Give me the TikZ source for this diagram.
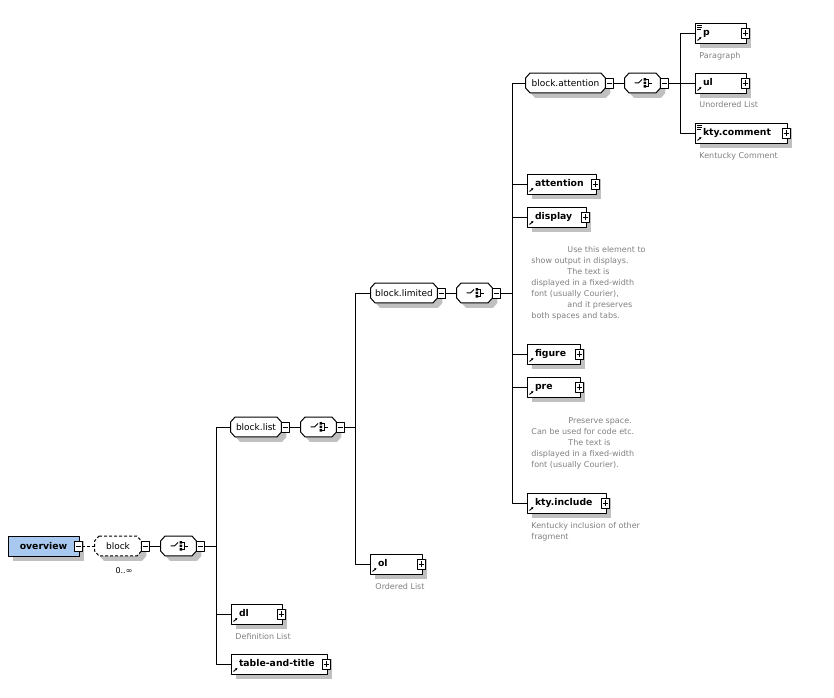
\documentclass[tikz,border=0pt]{standalone}
\usepackage{fontspec}
\setmainfont{DejaVu Sans}
\usetikzlibrary{shadows,arrows.meta,backgrounds}
\definecolor{rootblue}{RGB}{168,200,240}
\definecolor{docgray}{RGB}{128,128,128}
\definecolor{shadowgray}{RGB}{192,192,192}
\begin{document}
\begin{tikzpicture}[>=latex,line join=bevel,line width=0.9bp,
    shade/.style={drop shadow={shadow xshift=5bp,shadow yshift=-5bp,fill=shadowgray,opacity=1}},
    elem/.style={draw,rectangle,fill=white,shade,minimum height=20bp,inner xsep=8bp,inner ysep=0pt,
      text height=7bp,text depth=2bp,align=left,text width=#1,font=\fontsize{9.3bp}{11bp}\selectfont\bfseries,
      path picture={\draw[line width=0.9bp,-{Latex[length=2.2bp,width=2.6bp]}] ([shift={(2.5bp,2.5bp)}]path picture bounding box.south west) -- ++(4bp,3.5bp);}},
    elemdoc/.style={elem=#1,
      path picture={\draw[line width=0.9bp,-{Latex[length=2.2bp,width=2.6bp]}] ([shift={(2.5bp,2.5bp)}]path picture bounding box.south west) -- ++(4bp,3.5bp);
        \draw[line width=0.7bp] ([shift={(2bp,-2.5bp)}]path picture bounding box.north west) -- ++(5bp,0)
          ([shift={(2bp,-4.5bp)}]path picture bounding box.north west) -- ++(5bp,0)
          ([shift={(2bp,-6.5bp)}]path picture bounding box.north west) -- ++(3.5bp,0);}},
    group/.style={rectangle,minimum height=19bp,minimum width=#1,inner sep=0pt,font=\fontsize{9bp}{11bp}\selectfont},
    seq/.style={group=35bp},
    oct/.style={insert path={([xshift=4.5bp]#1.north west) -- ([xshift=-4.5bp]#1.north east) -- ([yshift=-5bp]#1.north east)
      -- ([yshift=5bp]#1.south east) -- ([xshift=-4.5bp]#1.south east) -- ([xshift=4.5bp]#1.south west)
      -- ([yshift=5bp]#1.south west) -- ([yshift=-5bp]#1.north west) -- cycle}},
    octshadow/.style={insert path={([shift={(9.5bp,-5bp)}]#1.north west) -- ([shift={(0.5bp,-5bp)}]#1.north east) -- ([shift={(5bp,-10bp)}]#1.north east)
      -- ([shift={(5bp,0bp)}]#1.south east) -- ([shift={(0.5bp,-5bp)}]#1.south east) -- ([shift={(9.5bp,-5bp)}]#1.south west)
      -- ([shift={(5bp,0bp)}]#1.south west) -- ([shift={(5bp,-10bp)}]#1.north west) -- cycle}},
    minus/.style={draw,fill=white,rectangle,minimum width=8bp,minimum height=10bp,inner sep=0pt,line width=0.7bp,
      path picture={\draw[line width=0.7bp] ([xshift=1.5bp]path picture bounding box.west) -- ([xshift=-1.5bp]path picture bounding box.east);}},
    plus/.style={draw,fill=white,rectangle,minimum width=8bp,minimum height=10bp,inner sep=0pt,line width=0.7bp,
      path picture={\draw[line width=0.7bp] ([xshift=1.5bp]path picture bounding box.west) -- ([xshift=-1.5bp]path picture bounding box.east)
        ([yshift=2bp]path picture bounding box.south) -- ([yshift=-2bp]path picture bounding box.north);}},
    doc/.style={anchor=base west,inner sep=0pt,align=left,text=docgray,font=\fontsize{8bp}{11bp}\selectfont},
  ]
    \useasboundingbox (0bp,0bp) rectangle (834bp,698bp);
    %%
    \node (ov) at (43.5bp,152bp) [draw,rectangle,fill=rootblue,shade,minimum width=71bp,minimum height=20bp,font=\fontsize{9.3bp}{11bp}\selectfont\bfseries] {overview};
    \node (ovm) at (78bp,152bp) [minus] {};
    \node (blk) at (118bp,152bp) [group=46bp] {block};
    \node (blkm) at (145bp,152bp) [minus] {};
    \node (card) at (124bp,124bp) [anchor=base,inner sep=0pt,font=\fontsize{8bp}{11bp}\selectfont] {0..∞};
    \node (sq1) at (178.5bp,152bp) [seq] {};
    \node (sq1m) at (200bp,152bp) [minus] {};
    \coordinate (t1) at (216bp,152bp);
    %
    \node (bl) at (256bp,271bp) [group=50bp] {block.list};
    \node (blm) at (285bp,271bp) [minus] {};
    \node (sq2) at (318.5bp,271bp) [seq] {};
    \node (sq2m) at (340bp,271bp) [minus] {};
    \coordinate (t2) at (355bp,271bp);
    \node (dl) at (256.5bp,84bp) [elem=35bp] {dl};
    \node (dlp) at (281bp,84bp) [plus] {};
    \node (dldoc) at (235bp,58bp) [doc] {Definition List};
    \node (tt) at (279bp,34bp) [elem=80bp] {table-and-title};
    \node (ttp) at (326bp,34bp) [plus] {};
    %
    \node (lim) at (404bp,405bp) [group=66bp] {block.limited};
    \node (limm) at (441bp,405bp) [minus] {};
    \node (sq3) at (474.5bp,405bp) [seq] {};
    \node (sq3m) at (496bp,405bp) [minus] {};
    \coordinate (t3) at (512bp,405bp);
    \node (ol) at (396bp,134bp) [elem=36bp] {ol};
    \node (olp) at (421bp,134bp) [plus] {};
    \node (oldoc) at (375bp,108bp) [doc] {Ordered List};
    %
    \node (att) at (565.5bp,615bp) [group=79bp] {block.attention};
    \node (attm) at (609.5bp,615bp) [minus] {};
    \node (sq4) at (642.5bp,615bp) [seq] {};
    \node (sq4m) at (664bp,615bp) [minus] {};
    \coordinate (t4) at (680bp,615bp);
    \node (attn) at (561.5bp,514bp) [elem=53bp] {attention};
    \node (attnp) at (595bp,514bp) [plus] {};
    \node (disp) at (556.5bp,481bp) [elem=43bp] {display};
    \node (dispp) at (585bp,481bp) [plus] {};
    \node (dispdoc) at (531bp,379bp) [doc] {\hspace*{36bp}Use this element to\\show output in displays.\\\hspace*{36bp}The text is\\displayed in a fixed-width\\font (usually Courier),\\\hspace*{36bp}and it preserves\\both spaces and tabs.};
    \node (fig) at (553.5bp,344bp) [elem=37bp] {figure};
    \node (figp) at (579bp,344bp) [plus] {};
    \node (pre) at (553.5bp,311bp) [elem=37bp] {pre};
    \node (prep) at (579bp,311bp) [plus] {};
    \node (predoc) at (531bp,230bp) [doc] {\hspace*{37bp}Preserve space.\\Can be used for code etc.\\\hspace*{37bp}The text is\\displayed in a fixed-width\\font (usually Courier).};
    \node (ki) at (566.5bp,195bp) [elem=63bp] {kty.include};
    \node (kip) at (605bp,195bp) [plus] {};
    \node (kidoc) at (531bp,158bp) [doc] {Kentucky inclusion of other\\fragment};
    %
    \node (p) at (720.5bp,665bp) [elemdoc=35bp] {p};
    \node (pp) at (745bp,665bp) [plus] {};
    \node (pdoc) at (699bp,639bp) [doc] {Paragraph};
    \node (ul) at (720.5bp,615bp) [elem=35bp] {ul};
    \node (ulp) at (745bp,615bp) [plus] {};
    \node (uldoc) at (699bp,590bp) [doc] {Unordered List};
    \node (kc) at (741bp,565bp) [elemdoc=76bp] {kty.comment};
    \node (kcp) at (786bp,565bp) [plus] {};
    \node (kcdoc) at (699bp,539bp) [doc] {Kentucky Comment};
    %% octagons behind the group texts
    \begin{scope}[on background layer]
      \foreach \grp in {blk,bl,lim,att,sq1,sq2,sq3,sq4}
        \fill [shadowgray] [octshadow=\grp];
      \foreach \grp in {bl,lim,att,sq1,sq2,sq3,sq4}
        \draw [fill=white,line width=1bp] [oct=\grp];
      \draw [fill=white,line width=1bp,dashed,dash pattern=on 3bp off 2bp] [oct=blk];
      \foreach \grp in {sq1,sq2,sq3,sq4} {
        \draw [line width=1bp,shift={(\grp.center)}] (-8bp,0bp) -- (-4bp,0bp) -- (-0.5bp,3.5bp);
        \fill [shift={(\grp.center)}] (1bp,2.25bp) rectangle (3.5bp,4.75bp) (1bp,-1.25bp) rectangle (3.5bp,1.25bp) (1bp,-4.75bp) rectangle (3.5bp,-2.25bp);
        \draw [line width=0.8bp,shift={(\grp.center)}] (3.5bp,3.5bp) -- (6bp,3.5bp) -- (6bp,-3.5bp) -- (3.5bp,-3.5bp) (6bp,0bp) -- (9bp,0bp);
      }
    \end{scope}
    %%
    \draw [dashed,dash pattern=on 3bp off 2bp] (ovm) -- (blk);
    \draw [] (blkm) -- (sq1);
    \draw [] (sq1m) -- (t1);
    \draw [] (t1) |- (bl);
    \draw [] (t1) |- (dl);
    \draw [] (t1) |- (tt);
    \draw [] (blm) -- (sq2);
    \draw [] (sq2m) -- (t2);
    \draw [] (t2) |- (lim);
    \draw [] (t2) |- (ol);
    \draw [] (limm) -- (sq3);
    \draw [] (sq3m) -- (t3);
    \draw [] (t3) |- (att);
    \draw [] (t3) |- (attn);
    \draw [] (t3) |- (disp);
    \draw [] (t3) |- (fig);
    \draw [] (t3) |- (pre);
    \draw [] (t3) |- (ki);
    \draw [] (attm) -- (sq4);
    \draw [] (sq4m) -- (t4);
    \draw [] (t4) |- (p);
    \draw [] (t4) |- (ul);
    \draw [] (t4) |- (kc);
    %
\end{tikzpicture}
\end{document}
